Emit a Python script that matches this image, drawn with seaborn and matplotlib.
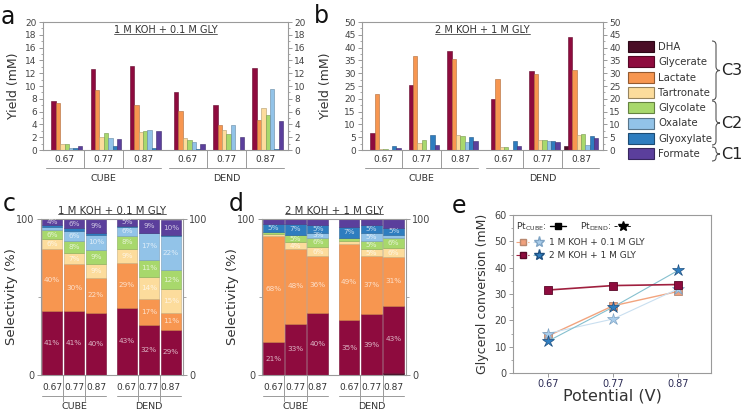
import numpy as np
import pandas as pd
import matplotlib
matplotlib.use("Agg")
import matplotlib.pyplot as plt
import matplotlib.colors as mcolors
import seaborn as sns
from matplotlib.patches import Patch, PathPatch
from matplotlib.lines import Line2D
from matplotlib.path import Path
from matplotlib.legend_handler import HandlerTuple
from matplotlib.ticker import MultipleLocator

# ---- data -------------------------------------------------------------
products = ["DHA", "Glycerate", "Lactate", "Tartronate",
            "Glycolate", "Oxalate", "Glyoxylate", "Formate"]
product_colors = ["#4a0d26", "#8e0b3e", "#f79650", "#fcdc9c",
                  "#a8d86c", "#92c3e8", "#2e7dbf", "#5b3f9c"]
potentials = ["0.67", "0.77", "0.87"]
catalysts = ["CUBE", "DEND"]

# yield (mM); rows: CUBE 0.67/0.77/0.87, DEND 0.67/0.77/0.87; cols: products
yield_1m = [
    [0, 7.6, 7.4, 1.0, 1.0, 0.3, 0.3, 0.6],
    [0, 12.6, 9.3, 2.1, 2.6, 1.9, 0.6, 1.7],
    [0, 13.2, 7.1, 2.8, 3.0, 3.2, 0.3, 2.9],
    [0, 9.1, 6.1, 1.8, 1.6, 1.2, 0.2, 1.0],
    [0, 7.1, 3.9, 3.1, 2.5, 3.9, 0.0, 2.0],
    [0, 12.8, 4.7, 6.5, 5.4, 9.5, 0.2, 4.5],
]
yield_2m = [
    [0, 6.8, 22.0, 0.5, 0.3, 0.0, 1.5, 0.8],
    [0, 25.5, 36.8, 2.8, 4.0, 0.0, 5.7, 2.0],
    [0, 38.6, 35.6, 5.8, 5.6, 3.3, 5.0, 3.5],
    [0, 19.8, 27.8, 1.2, 1.3, 0.0, 3.6, 1.6],
    [0, 30.9, 29.7, 3.8, 3.9, 3.7, 3.5, 3.0],
    [1.5, 44.3, 31.3, 5.8, 6.2, 2.0, 5.4, 4.8],
]
# selectivity (%)
sel_1m = [
    [0, 41, 40, 6, 6, 2, 1, 4],
    [0, 41, 30, 7, 8, 6, 2, 6],
    [0, 40, 22, 9, 9, 10, 1, 9],
    [0, 43, 29, 9, 8, 6, 0.5, 5],
    [0, 32, 17, 14, 11, 17, 0, 9],
    [0, 29, 11, 15, 12, 22, 0.5, 10],
]
sel_2m = [
    [0, 21, 68, 1.5, 1, 0, 5, 3.5],
    [0, 33, 48, 4, 5, 0, 7, 3],
    [0, 40, 36, 6, 6, 3, 5, 4],
    [0, 35, 49, 2, 2, 0, 7, 5],
    [0, 39, 37, 5, 5, 5, 5, 4],
    [1.5, 43, 31, 6, 6, 2, 5, 5.5],
]
# glycerol conversion (mM)
conv_potential = [0.67, 0.77, 0.87]
conv_cube_1m = [14.0, 25.5, 31.0]
conv_dend_1m = [15.0, 20.5, 32.0]
conv_cube_2m = [31.5, 33.2, 33.6]
conv_dend_2m = [12.0, 25.0, 39.0]

# ---- style ------------------------------------------------------------
sns.set_style("ticks")
plt.rcParams["font.family"] = ["DejaVu Sans"]
plt.rcParams["axes.edgecolor"] = "#9a9a9a"
plt.rcParams["axes.linewidth"] = 0.8
plt.rcParams["xtick.color"] = "#9a9a9a"
plt.rcParams["ytick.color"] = "#9a9a9a"
plt.rcParams["xtick.labelcolor"] = "#444444"
plt.rcParams["ytick.labelcolor"] = "#444444"
plt.rcParams["axes.labelcolor"] = "#333333"
plt.rcParams["text.color"] = "#333333"
plt.rcParams["mathtext.default"] = "regular"

palette = dict(zip(products, product_colors))


def darker(c, f=0.7):
    r, g, b = mcolors.to_rgb(c)
    return (r * f, g * f, b * f)


fig = plt.figure(figsize=(7.44, 4.15), dpi=100)
W, H = 744, 415


def add_ax(x0, y0, x1, y1):
    return fig.add_axes([x0 / W, 1 - y1 / H, (x1 - x0) / W, (y1 - y0) / H])


grp_pos = [0, 1, 2, 3.13, 4.13, 5.13]
stk_pos = [0, 1, 2, 3.4, 4.4, 5.4]


def group_axis(ax, pos, y_lab, y_line, y_grp, y_sep, half, fs=6.5):
    tr = ax.get_xaxis_transform()
    for i, x in enumerate(pos):
        ax.text(x, y_lab, potentials[i % 3], transform=tr, ha="center",
                va="center", fontsize=fs, color="#333333")
    for g in range(2):
        p = pos[3 * g:3 * g + 3]
        for a, b in zip(p[:-1], p[1:]):
            ax.plot([(a + b) / 2] * 2, [0, y_sep], transform=tr,
                    color="#9a9a9a", lw=0.7, clip_on=False)
        ax.plot([p[0] - half, p[2] + half], [y_line] * 2, transform=tr,
                color="#9a9a9a", lw=0.7, clip_on=False)
        ax.text(np.mean(p), y_grp, catalysts[g], transform=tr, ha="center",
                va="center", fontsize=6.8, color="#333333")


titles = []


def yield_panel(ax, data, ymax, step, minor, title):
    rows = []
    for i, x in enumerate(grp_pos):
        for j, name in enumerate(products):
            rows.append({"x": x, "product": name, "value": data[i][j]})
    df = pd.DataFrame(rows)
    sns.barplot(data=df, x="x", y="value", hue="product", hue_order=products,
                palette=palette, native_scale=True, width=0.9,
                errorbar=None, legend=False, ax=ax, linewidth=0.4,
                saturation=1)
    for p in ax.patches:
        p.set_edgecolor(darker(p.get_facecolor()))
    ax.set_xlim(-0.55, 5.7)
    ax.set_ylim(0, ymax)
    ax.set_xticks([])
    ax.set_xlabel("")
    ax.yaxis.set_major_locator(MultipleLocator(step))
    ax.yaxis.set_minor_locator(MultipleLocator(minor))
    ax.tick_params(axis="y", which="both", direction="out", left=True,
                   right=True, labelright=True, labelsize=6.5, pad=1.5)
    ax.tick_params(axis="y", which="major", length=3, width=0.7)
    ax.tick_params(axis="y", which="minor", length=1.5, width=0.6)
    ax.set_ylabel("Yield (mM)", fontsize=9)
    t = ax.text(0.5, 0.915, title, transform=ax.transAxes, ha="center",
                va="baseline", fontsize=7, color="#333333")
    titles.append(t)
    group_axis(ax, grp_pos, -0.078, -0.14, -0.225, -0.14, 0.47)


def stack_panel(ax, data, title, skip):
    data = np.array(data, dtype=float)
    bottom = np.zeros(len(stk_pos))
    for j, name in enumerate(products):
        vals = data[:, j]
        ax.bar(stk_pos, vals, bottom=bottom, width=0.93,
               color=product_colors[j], edgecolor=darker(product_colors[j], 0.8),
               linewidth=0.4)
        for x, b, v in zip(stk_pos, bottom, vals):
            if v >= 3 and name not in skip:
                ax.text(x, b + v / 2, f"{v:.0f}%", ha="center", va="center",
                        fontsize=5.2, color="white", alpha=0.7)
        bottom += vals
    ax.set_xlim(-0.5, 5.95)
    ax.set_ylim(0, 100)
    ax.set_xticks([])
    ax.set_yticks([0, 100])
    ax.set_yticks([50], minor=True)
    ax.tick_params(axis="y", which="both", direction="out", left=True,
                   right=True, labelright=True, labelsize=7, pad=1.5)
    ax.tick_params(axis="y", which="major", length=3, width=0.7)
    ax.tick_params(axis="y", which="minor", length=2.5, width=0.6)
    ax.set_ylabel("Selectivity (%)", fontsize=9.5)
    ax.yaxis.set_label_coords(-0.16, 0.5)
    t = ax.text(0.5, 1.035, title, transform=ax.transAxes, ha="center",
                va="baseline", fontsize=7.3, color="#333333")
    titles.append(t)
    group_axis(ax, stk_pos, -0.077, -0.135, -0.205, -0.165, 0.465)


# ---- a / b ------------------------------------------------------------
ax_a = add_ax(43, 22, 288, 150)
yield_panel(ax_a, yield_1m, 20, 2, 1, "1 M KOH + 0.1 M GLY")
ax_a.yaxis.set_label_coords(-0.094, 0.5)

ax_b = add_ax(362, 22, 603, 150)
yield_panel(ax_b, yield_2m, 50, 5, 2.5, "2 M KOH + 1 M GLY")
ax_b.yaxis.set_label_coords(-0.124, 0.5)

# product legend
handles = [Patch(facecolor=c, edgecolor=darker(c, 0.6), linewidth=0.8)
           for c in product_colors]
fig.legend(handles, products, loc="upper left",
           bbox_to_anchor=(628 / W, 1 - 41 / H), frameon=False, fontsize=7.3,
           handlelength=2.6, handleheight=1.3, labelspacing=0.42,
           handletextpad=0.35, borderpad=0, borderaxespad=0)


def brace(x0, y0, y1, w, lw=0.8):
    xm = x0 + w / 2
    ym = (y0 + y1) / 2
    r = min(4.0, (y1 - y0) / 4)
    pts = [(x0, y0), (xm, y0), (xm, y0 + r), (xm, ym - r), (xm, ym),
           (x0 + w, ym), (xm, ym), (xm, ym + r), (xm, y1 - r), (xm, y1),
           (x0, y1)]
    codes = [Path.MOVETO, Path.CURVE3, Path.CURVE3, Path.LINETO,
             Path.CURVE3, Path.CURVE3, Path.CURVE3, Path.CURVE3,
             Path.LINETO, Path.CURVE3, Path.CURVE3]
    pts = [(x / W, 1 - y / H) for x, y in pts]
    fig.add_artist(PathPatch(Path(pts, codes), transform=fig.transFigure,
                             fill=False, edgecolor="#555555", lw=lw))


for (y0, y1), lab in zip([(41, 100), (101, 145), (147, 161)], ["C3", "C2", "C1"]):
    brace(712, y0, y1, 8)
    fig.text(732 / W, 1 - ((y0 + y1) / 2) / H, lab, ha="center",
             va="center", fontsize=11.5, color="#222222")

# ---- c / d ------------------------------------------------------------
ax_c = add_ax(41, 219, 183, 375)
stack_panel(ax_c, sel_1m, "1 M KOH + 0.1 M GLY", ())

ax_d = add_ax(262, 219, 406, 375)
stack_panel(ax_d, sel_2m, "2 M KOH + 1 M GLY", ("Formate",))

# ---- e ----------------------------------------------------------------
ax_e = add_ax(513, 215, 711, 373)
c_cube1, c_cube2 = "#f0a07c", "#8e0b3e"
c_dend1, c_dend2 = "#a9cdeb", "#2f7ec0"
sns.lineplot(x=conv_potential, y=conv_cube_1m, ax=ax_e, color="#f2a47e",
             lw=1.0, marker="s", markersize=5.5, markerfacecolor=c_cube1,
             markeredgecolor="#b88870", markeredgewidth=0.6)
sns.lineplot(x=conv_potential, y=conv_dend_1m, ax=ax_e, color="#c9dff0",
             lw=0.8, marker="*", markersize=9, markerfacecolor=c_dend1,
             markeredgecolor="#7ea3c4", markeredgewidth=0.5)
sns.lineplot(x=conv_potential, y=conv_dend_2m, ax=ax_e, color="#86c0cf",
             lw=0.8, marker="*", markersize=9, markerfacecolor=c_dend2,
             markeredgecolor="#1d4f80", markeredgewidth=0.5)
sns.lineplot(x=conv_potential, y=conv_cube_2m, ax=ax_e, color="#a0203f",
             lw=1.2, marker="s", markersize=5.5, markerfacecolor=c_cube2,
             markeredgecolor="#5a0727", markeredgewidth=0.6)
ax_e.set_xlim(0.617, 0.92)
ax_e.set_ylim(0, 60)
ax_e.set_xticks(conv_potential)
ax_e.set_xticklabels(potentials)
ax_e.yaxis.set_major_locator(MultipleLocator(10))
ax_e.yaxis.set_minor_locator(MultipleLocator(5))
ax_e.tick_params(axis="both", which="both", direction="out", labelsize=7,
                 pad=1.5)
ax_e.tick_params(axis="both", which="major", length=3, width=0.7)
ax_e.tick_params(axis="y", which="minor", length=1.5, width=0.6)
ax_e.tick_params(axis="x", labelcolor="#2b2b55")
ax_e.set_xlabel("Potential (V)", fontsize=11.5)
ax_e.xaxis.set_label_coords(0.5, -0.1)
ax_e.set_ylabel("Glycerol conversion (mM)", fontsize=9)
ax_e.yaxis.set_label_coords(-0.12, 0.5)

hdr = [Line2D([], [], color="black", marker="s", ls="-", lw=1, ms=4.5),
       Line2D([], [], color="black", marker="*", ls="--", lw=0.6, ms=7)]
leg1 = ax_e.legend(hdr, ["Pt$_{CUBE}$:", "Pt$_{DEND}$:"], ncol=2,
                   markerfirst=False, loc="upper left",
                   bbox_to_anchor=(-0.01, 1.0), frameon=False, fontsize=6.5,
                   handlelength=1.8, columnspacing=1.6, handletextpad=0.3,
                   borderaxespad=0.2)
ax_e.add_artist(leg1)
rows = [
    (Line2D([], [], color="#f2a47e", marker="s", ls="--", lw=0.8, ms=5,
            mfc=c_cube1, mec="#b88870"),
     Line2D([], [], color="#c9dff0", marker="*", ls="--", lw=0.8, ms=8,
            mfc=c_dend1, mec="#7ea3c4")),
    (Line2D([], [], color="#a0203f", marker="s", ls="--", lw=0.8, ms=5,
            mfc=c_cube2, mec="#5a0727"),
     Line2D([], [], color="#86c0cf", marker="*", ls="--", lw=0.8, ms=8,
            mfc=c_dend2, mec="#1d4f80")),
]
ax_e.legend(rows, ["1 M KOH + 0.1 M GLY", "2 M KOH + 1 M GLY"],
            handler_map={tuple: HandlerTuple(ndivide=None, pad=0.4)},
            loc="upper left", bbox_to_anchor=(-0.01, 0.89), frameon=False,
            fontsize=6.5, handlelength=3.2, handletextpad=0.4,
            labelspacing=0.5, borderaxespad=0.2)

# ---- panel letters ----------------------------------------------------
for x, y, s in [(8, 17, "a"), (321, 16, "b"), (9, 204, "c"), (236, 204, "d"),
                (459, 206, "e")]:
    fig.text(x / W, 1 - y / H, s, ha="center", va="center", fontsize=17,
             color="#111111")

# underline the condition titles
fig.canvas.draw()
rend = fig.canvas.get_renderer()
for t in titles:
    bb = t.get_window_extent(rend).transformed(fig.transFigure.inverted())
    yline = bb.y0 + 0.12 * (bb.y1 - bb.y0)
    fig.add_artist(Line2D([bb.x0, bb.x1], [yline, yline],
                          transform=fig.transFigure, color="#444444", lw=0.6))

fig.savefig("out.png", dpi=100)
